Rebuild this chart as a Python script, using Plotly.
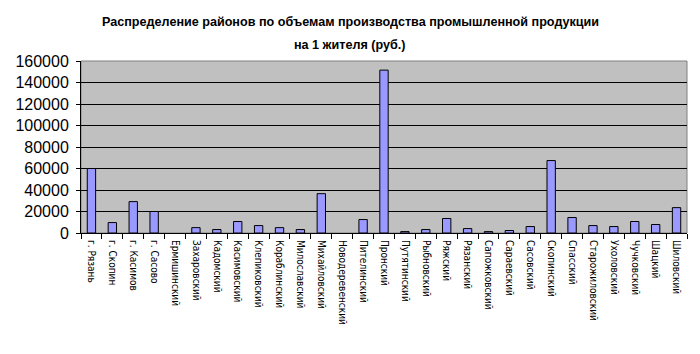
import plotly.graph_objects as go

districts = ["г. Рязань", "г. Скопин", "г. Касимов", "г. Сасово", "Ермишинский", "Захаровский",
             "Кадомский", "Касимовский", "Клепиковский", "Кораблинский", "Милославский",
             "Михайловский", "Новодеревенский", "Пителинский", "Пронский", "Путятинский",
             "Рыбновский", "Ряжский", "Рязанский", "Сапожковский", "Сараевский", "Сасовский",
             "Скопинский", "Спасский", "Старожиловский", "Ухоловский", "Чучковский", "Шацкий",
             "Шиловский"]
values = [60000, 9700, 29200, 20000, 0, 5000,
          3200, 10700, 6900, 5000, 3200,
          36600, 0, 12500, 151500, 1300,
          3200, 13500, 4100, 1300, 2300, 6000,
          67400, 14400, 6900, 6000, 10700, 7900,
          23600]
y_ticks = [0, 20000, 40000, 60000, 80000, 100000, 120000, 140000, 160000]
title_lines = ["Распределение районов по объемам производства промышленной продукции",
               "на 1 жителя (руб.)"]

fig = go.Figure(go.Bar(
    x=districts, y=values, width=0.4,
    marker=dict(color="#9999FF",
                line=dict(color="black", width=[1 if v > 0 else 0 for v in values])),
))

fig.update_layout(
    width=700, height=354,
    margin=dict(l=81, r=13, t=61, b=121),
    paper_bgcolor="white", plot_bgcolor="#C0C0C0",
    showlegend=False,
)
title_font = dict(family="Liberation Sans, Arial", size=12.6, color="black")
for i, line in enumerate(title_lines):
    fig.add_annotation(text=f"<b>{line}</b>", xref="paper", yref="paper",
                       x=0.444, y=1 + (39 - 23 * i) / 172, xanchor="center", yanchor="middle",
                       showarrow=False, font=title_font)
fig.update_xaxes(
    type="category", tickangle=90,
    tickfont=dict(family="Liberation Sans Narrow, DejaVu Sans Condensed, Liberation Sans", size=10, color="black"),
    tickson="boundaries", ticks="outside", ticklen=5, tickcolor="black", ticklabelstandoff=4,
    showline=True, linecolor="black", linewidth=1, showgrid=False,
)
fig.update_yaxes(
    range=[0, 160000], tickvals=y_ticks, ticktext=[str(v) for v in y_ticks],
    tickfont=dict(family="Liberation Sans, Arial", size=16, color="black"),
    showgrid=True, gridcolor="black", gridwidth=1,
    ticks="outside", ticklen=4, tickcolor="black", ticklabelstandoff=4,
    showline=True, linecolor="black", linewidth=1, zeroline=False,
)
fig.add_shape(type="rect", xref="paper", yref="paper", x0=0, x1=1, y0=0, y1=1,
              line=dict(color="#808080", width=1), layer="below")

fig.write_html("out.html")
